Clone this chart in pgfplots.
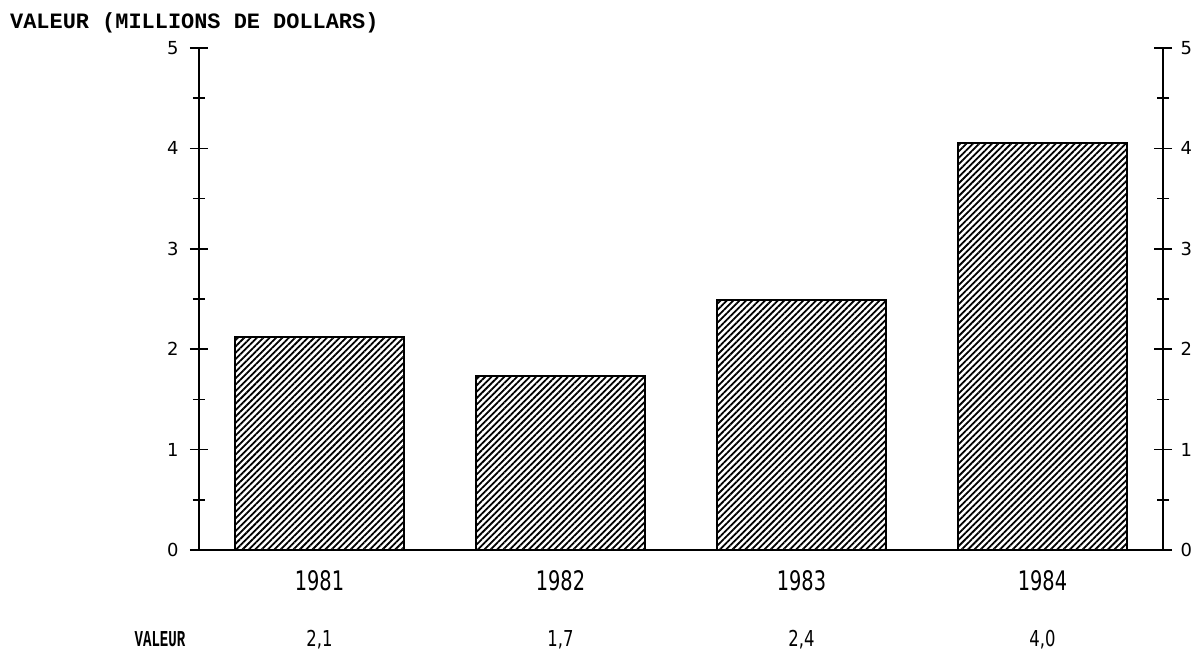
\documentclass[border=0pt]{standalone}
\usepackage{fontspec}
\usepackage{pgfplots}
\pgfplotsset{compat=1.18}
\usetikzlibrary{patterns.meta}
\setmainfont{DejaVu Sans}
\newfontfamily\yearfont[FakeStretch=0.72]{DejaVu Sans}
\newfontfamily\valfont[FakeStretch=0.75]{DejaVu Sans}
\newfontfamily\titlefont{Liberation Mono}
\newfontfamily\labfont[FakeStretch=0.62]{Liberation Mono}

\pgfplotsset{
  twin/.style={
    scale only axis, width=964bp, height=502bp,
    xmin=-0.5, xmax=3.5, ymin=0, ymax=5,
    ytick={0,1,2,3,4,5}, minor y tick num=1,
    tick align=center, major tick length=18bp, minor tick length=12bp,
    y axis line style={line width=1.6bp},
    y tick style={line width=1.6bp, black},
    /pgf/number format/assume math mode=true,
    clip=false,
  }
}

\begin{document}
\begin{tikzpicture}
\begin{axis}[twin, name=main,
  axis x line*=bottom, axis y line*=left,
  x axis line style={draw=none},
  yticklabel style={font=\fontsize{18}{18}\selectfont, xshift=-8bp},
  xtick={0,1,2,3}, xticklabels={1981,1982,1983,1984},
  x tick style={draw=none},
  xticklabel style={font=\yearfont\fontsize{27}{27}\selectfont, anchor=north, yshift=-8bp},
]
\addplot[ybar, bar width=169bp, draw=black, line width=2bp, fill=white,
  pattern={Lines[angle=45, distance=4.5bp, line width=1.8bp]}, pattern color=black]
  coordinates {(0,2.12) (1,1.73) (2,2.49) (3,4.05)};
\draw[line width=2.2bp] ([xshift=-7bp]rel axis cs:0,0) -- ([xshift=7bp]rel axis cs:1,0);
% value row under the years
\node[anchor=base, inner sep=0pt, font=\valfont\fontsize{22}{22}\selectfont] at ([yshift=-97bp]axis cs:0,0) {2,1};
\node[anchor=base, inner sep=0pt, font=\valfont\fontsize{22}{22}\selectfont] at ([yshift=-97bp]axis cs:1,0) {1,7};
\node[anchor=base, inner sep=0pt, font=\valfont\fontsize{22}{22}\selectfont] at ([yshift=-97bp]axis cs:2,0) {2,4};
\node[anchor=base, inner sep=0pt, font=\valfont\fontsize{22}{22}\selectfont] at ([yshift=-97bp]axis cs:3,0) {4,0};
\node[anchor=base, inner sep=0pt, font=\labfont\bfseries\fontsize{22.8}{22.8}\selectfont] at ([xshift=-39bp,yshift=-97bp]rel axis cs:0,0) {VALEUR};
\node[anchor=base west, inner sep=0pt, font=\titlefont\bfseries\fontsize{22}{22}\selectfont] at ([xshift=-189bp,yshift=19bp]rel axis cs:0,1) {VALEUR (MILLIONS DE DOLLARS)};
\end{axis}
\begin{axis}[twin,
  axis x line=none, axis y line*=right,
  yticklabel pos=right,
  yticklabel style={font=\fontsize{18}{18}\selectfont, xshift=5bp},
]
\end{axis}
\pgfresetboundingbox
\useasboundingbox ([xshift=-199bp,yshift=-102bp]main.south west) rectangle ([xshift=33bp,yshift=48bp]main.north east);
\end{tikzpicture}
\end{document}
